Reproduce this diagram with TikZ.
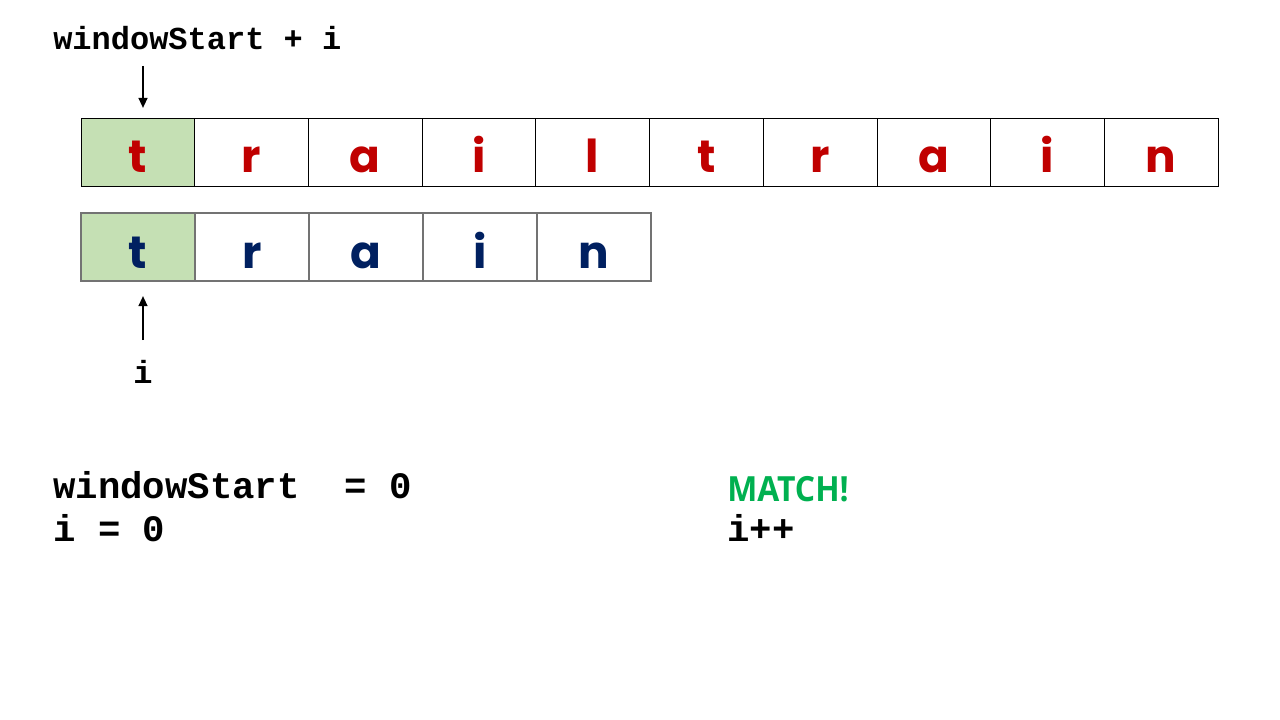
\documentclass[tikz,border=0pt]{standalone}
\usepackage{fontspec}
\usetikzlibrary{arrows.meta}
\setmainfont{Liberation Sans}
\setmonofont{Liberation Mono}
\newfontfamily\cellfont{Poppins}
\newfontfamily\narrowfont[FakeStretch=0.92]{Open Sans}
\definecolor{cellred}{HTML}{C00000}
\definecolor{cellnavy}{HTML}{002060}
\definecolor{cellgreen}{HTML}{C5E0B4}
\definecolor{matchgreen}{HTML}{00B050}
\begin{document}
\begin{tikzpicture}[x=0.75pt,y=-0.75pt,
  topcell/.style={draw=black,line width=0.6pt,minimum width=85.275pt,minimum height=51pt,inner sep=0pt},
  botcell/.style={draw=black!55,line width=0.8pt,minimum width=85.5pt,minimum height=51pt,inner sep=0pt},
  letA/.style={anchor=base,inner sep=0pt,font=\cellfont\bfseries\fontsize{34}{34}\selectfont,text=cellred},
  letB/.style={anchor=base,inner sep=0pt,font=\cellfont\bfseries\fontsize{34}{34}\selectfont,text=cellnavy},
  code/.style={anchor=base west,inner sep=0pt,font=\ttfamily\bfseries\fontsize{24}{24}\selectfont},
  bigcode/.style={anchor=base west,inner sep=0pt,font=\ttfamily\bfseries\fontsize{28}{28}\selectfont},
  ptr/.style={-{Triangle[length=7.5pt,width=6.5pt]},line width=1.5pt,black}
]
\useasboundingbox (0,0) rectangle (1280,720);
% top row
\foreach \c [count=\k] in {t,r,a,i,l,t,r,a,i,n}{
  \pgfmathsetmacro{\cx}{81+113.7*(\k-0.5)}
  \ifnum\k=1
    \node[topcell,fill=cellgreen] (t\k) at (\cx,152) {};
  \else
    \node[topcell] (t\k) at (\cx,152) {};
  \fi
  \node[letA] (tl\k) at (\cx,173) {\c};
}
% bottom row
\foreach \c [count=\k] in {t,r,a,i,n}{
  \pgfmathsetmacro{\cx}{81+114*(\k-0.5)}
  \ifnum\k=1
    \node[botcell,fill=cellgreen] (b\k) at (\cx,247) {};
  \else
    \node[botcell] (b\k) at (\cx,247) {};
  \fi
  \node[letB] (bl\k) at (\cx,268) {\c};
}
% labels
\node[code] (ws) at (53,50) {windowStart + i};
\coordinate (wsa) at (143,66);
\draw[ptr] (wsa) -- (143,108);
\node[code,anchor=base] (iv) at (143,383) {i};
\coordinate (ia) at (143,340);
\draw[ptr] (ia) -- (143,296);
\node[bigcode] (eq1) at (53,498) {windowStart\ \ = 0};
\node[bigcode] (eq2) at (53,541) {i = 0};
\node[anchor=base west,inner sep=0pt,font=\narrowfont\bfseries\fontsize{26}{26}\selectfont,text=matchgreen] (m) at (727,501) {MATCH!};
\node[bigcode] (ipp) at (727,541) {i++};
\end{tikzpicture}
\end{document}
